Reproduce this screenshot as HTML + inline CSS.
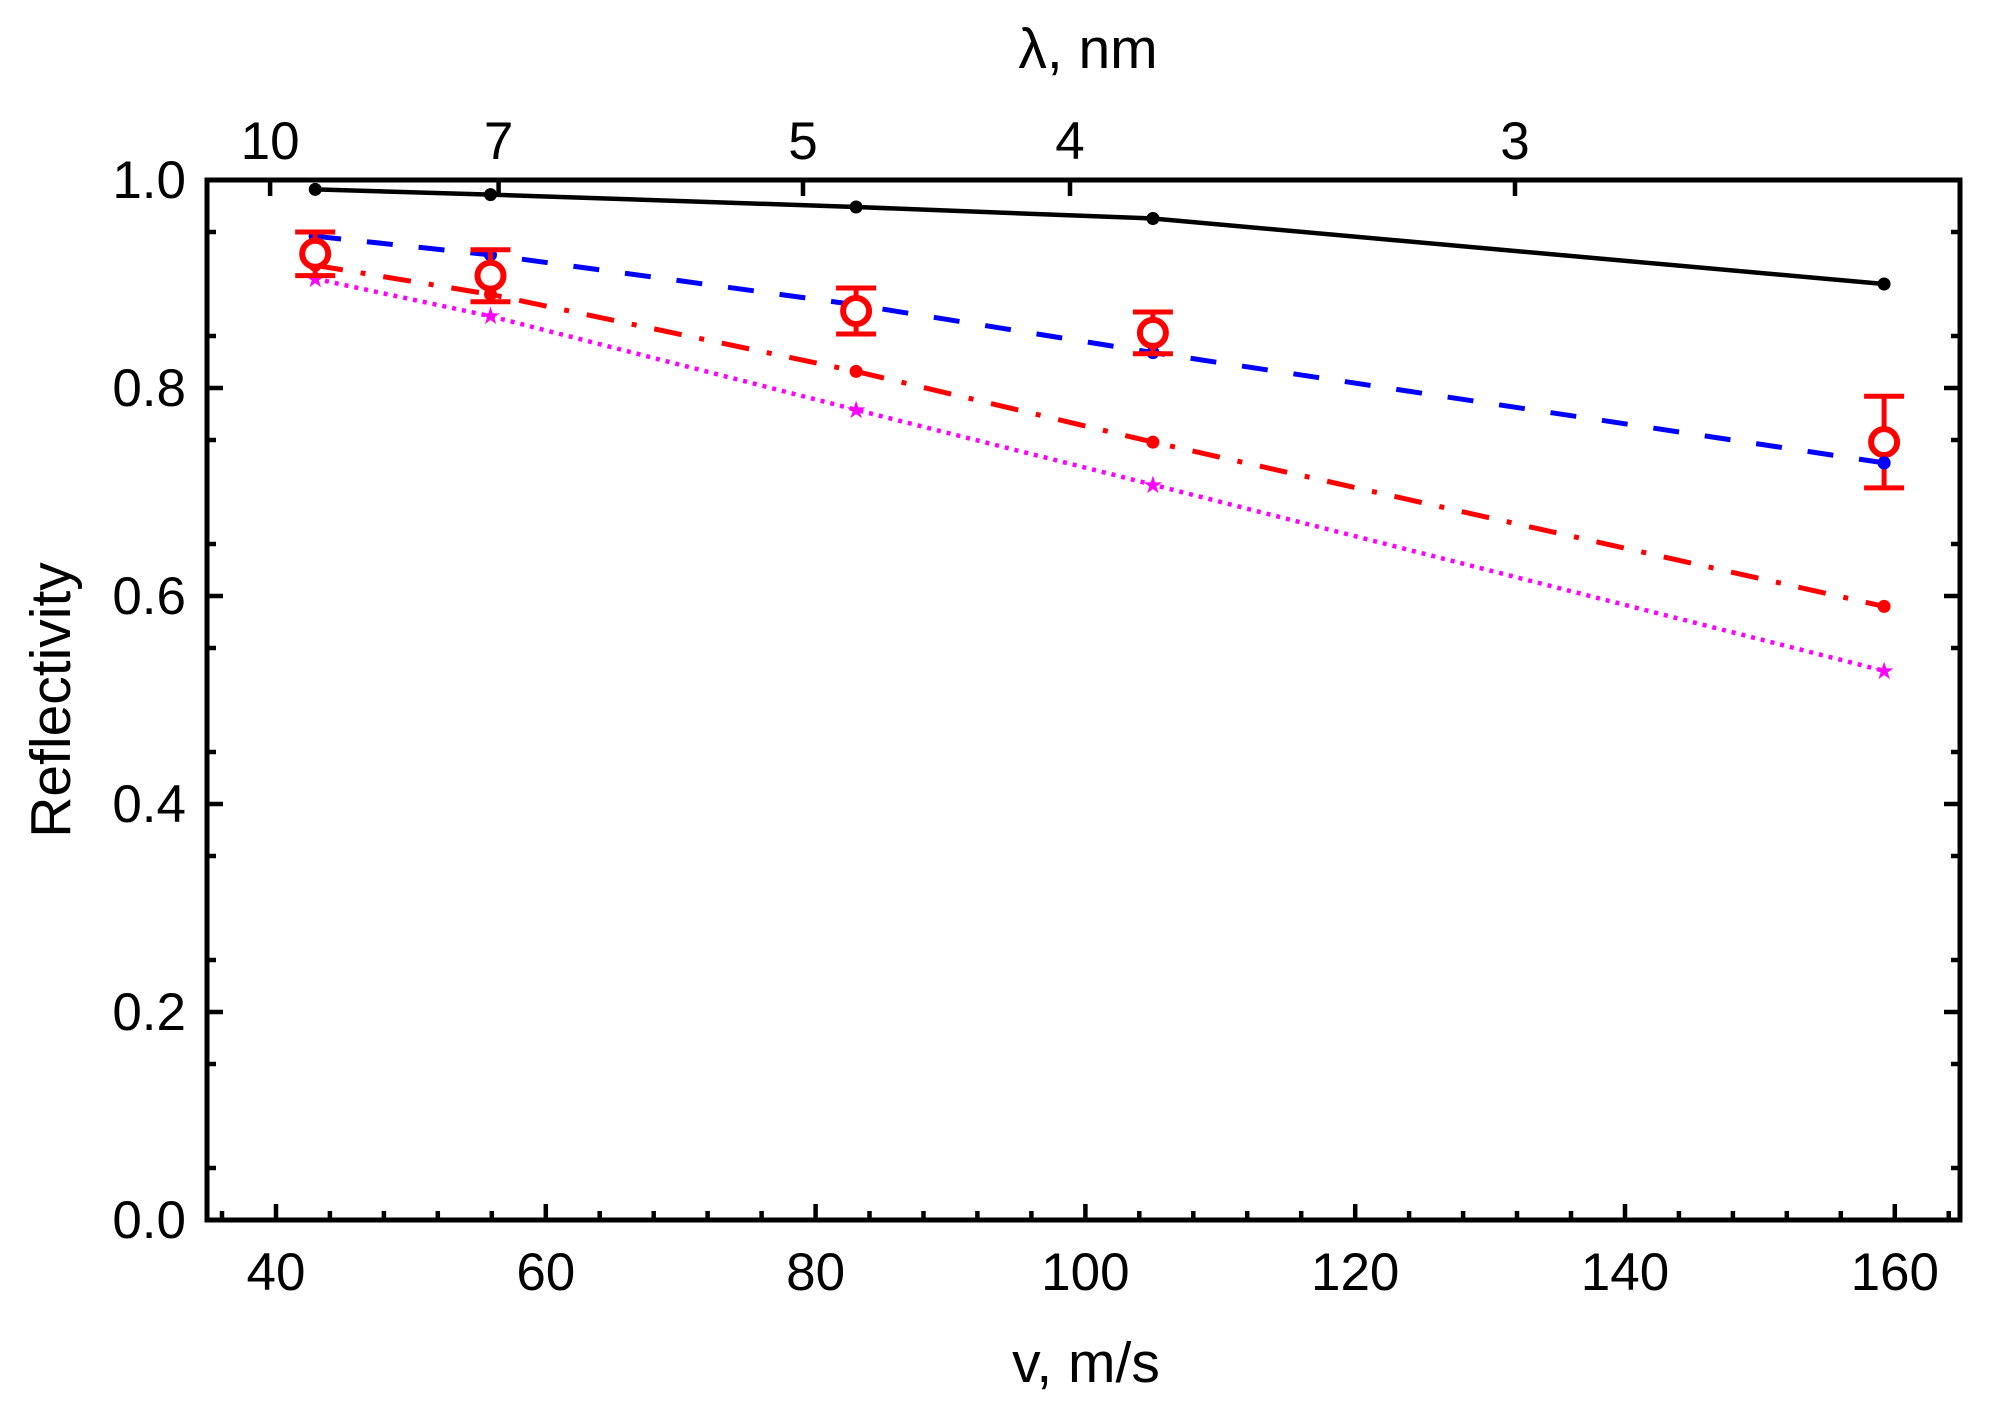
<!DOCTYPE html>
<html><head><meta charset="utf-8"><style>
html,body{margin:0;padding:0;background:#fff;}
svg{display:block;font-family:"Liberation Sans",Arial,sans-serif;}
</style></head><body>
<svg width="1994" height="1403" viewBox="0 0 1994 1403" xmlns="http://www.w3.org/2000/svg">
<rect width="1994" height="1403" fill="#fff"/>
<g transform="translate(-4,0)">
<polyline points="319.2,189.4 494.5,194.6 860.1,207 1156.9,218.5 1888.1,284" fill="none" stroke="#000" stroke-width="4.5"/>
<g fill="#000"><circle cx="319.2" cy="189.4" r="6.5"/><circle cx="494.5" cy="194.6" r="6.5"/><circle cx="860.1" cy="207" r="6.5"/><circle cx="1156.9" cy="218.5" r="6.5"/><circle cx="1888.1" cy="284" r="6.5"/></g>
<polyline points="319.2,236.2 494.5,254.9 860.1,304.8 1156.9,352.6 1888.1,462.9" fill="none" stroke="#0000ff" stroke-width="5" stroke-dasharray="26,26"/>
<g fill="#0000ff"><circle cx="319.2" cy="236.2" r="6.5"/><circle cx="494.5" cy="254.9" r="6.5"/><circle cx="860.1" cy="304.8" r="6.5"/><circle cx="1156.9" cy="352.6" r="6.5"/><circle cx="1888.1" cy="462.9" r="6.5"/></g>
<polyline points="319.2,265.3 494.5,294.4 860.1,371.4 1156.9,442.1 1888.1,606.4" fill="none" stroke="#ff0000" stroke-width="5" stroke-dasharray="28,18,5,18"/>
<g fill="#ff0000"><circle cx="319.2" cy="265.3" r="6.5"/><circle cx="494.5" cy="294.4" r="6.5"/><circle cx="860.1" cy="371.4" r="6.5"/><circle cx="1156.9" cy="442.1" r="6.5"/><circle cx="1888.1" cy="606.4" r="6.5"/></g>
<polyline points="319.2,278.8 494.5,316.2 860.1,409.8 1156.9,484.7 1888.1,670.9" fill="none" stroke="#ff00ff" stroke-width="4.5" stroke-dasharray="4,6"/>
<g fill="#ff00ff" font-size="24" text-anchor="middle"><text x="319.2" y="287">★</text><text x="494.5" y="324">★</text><text x="860.1" y="418">★</text><text x="1156.9" y="493">★</text><text x="1888.1" y="679">★</text></g>
<g stroke="#ff0000" stroke-width="5" fill="none">
<path d="M319.2,232 V275.6 M299.2,232 H339.2 M299.2,275.6 H339.2"/>
<path d="M494.5,249.7 V301.7 M474.5,249.7 H514.5 M474.5,301.7 H514.5"/>
<path d="M860.1,288 V334 M840.1,288 H880.1 M840.1,334 H880.1"/>
<path d="M1156.9,312 V353.7 M1136.9,312 H1176.9 M1136.9,353.7 H1176.9"/>
<path d="M1888.1,396.3 V487.9 M1868.1,396.3 H1908.1 M1868.1,487.9 H1908.1"/>
</g>
<g stroke="#ff0000" stroke-width="6" fill="#fff">
<circle cx="319.2" cy="253.8" r="13"/><circle cx="494.5" cy="275.7" r="13"/><circle cx="860.1" cy="311" r="13"/><circle cx="1156.9" cy="332.9" r="13"/><circle cx="1888.1" cy="442.1" r="13"/>
</g>
<g fill="#0000ff"><circle cx="1888.1" cy="462.9" r="6.5"/></g>
</g>
<rect x="207" y="180" width="1753" height="1040" fill="none" stroke="#000" stroke-width="5"/>
<g stroke="#000" stroke-width="4.5">
<path d="M276,1220v-16M545.8,1220v-16M815.6,1220v-16M1085.4,1220v-16M1355.2,1220v-16M1625,1220v-16M1894.8,1220v-16"/>
<path d="M222,1220v-9M329.9,1220v-9M383.9,1220v-9M437.8,1220v-9M491.8,1220v-9M599.7,1220v-9M653.7,1220v-9M707.6,1220v-9M761.6,1220v-9M869.5,1220v-9M923.5,1220v-9M977.4,1220v-9M1031.4,1220v-9M1139.3,1220v-9M1193.3,1220v-9M1247.2,1220v-9M1301.2,1220v-9M1409.1,1220v-9M1463.1,1220v-9M1517,1220v-9M1571,1220v-9M1678.9,1220v-9M1732.9,1220v-9M1786.8,1220v-9M1840.8,1220v-9M1948.7,1220v-9"/>
<path d="M270.1,180v16M498.6,180v16M803,180v16M1070,180v16M1515,180v16"/>
<path d="M207,1012h16M207,804h16M207,596h16M207,388h16M1960,1012h-16M1960,804h-16M1960,596h-16M1960,388h-16"/>
<path d="M207,1168h9M207,1064h9M207,960h9M207,856h9M207,752h9M207,648h9M207,544h9M207,440h9M207,336h9M207,232h9M1960,1168h-9M1960,1064h-9M1960,960h-9M1960,856h-9M1960,752h-9M1960,648h-9M1960,544h-9M1960,440h-9M1960,336h-9M1960,232h-9"/>
</g>
<g font-size="53" fill="#000" text-anchor="middle">
<text x="276" y="1290">40</text><text x="545.8" y="1290">60</text><text x="815.6" y="1290">80</text><text x="1085.4" y="1290">100</text><text x="1355.2" y="1290">120</text><text x="1625" y="1290">140</text><text x="1894.8" y="1290">160</text>
<text x="270.1" y="159">10</text><text x="498.6" y="159">7</text><text x="803" y="159">5</text><text x="1070" y="159">4</text><text x="1515" y="159">3</text>
</g>
<g font-size="53" fill="#000" text-anchor="end">
<text x="186" y="1238">0.0</text><text x="186" y="1030">0.2</text><text x="186" y="822">0.4</text><text x="186" y="614">0.6</text><text x="186" y="406">0.8</text><text x="186" y="198">1.0</text>
</g>
<g font-size="57" fill="#000" text-anchor="middle">
<text x="1086" y="1382">v, m/s</text>
<text x="1088" y="68">λ, nm</text>
<text transform="translate(70,700) rotate(-90)">Reflectivity</text>
</g>
</svg>
</body></html>
